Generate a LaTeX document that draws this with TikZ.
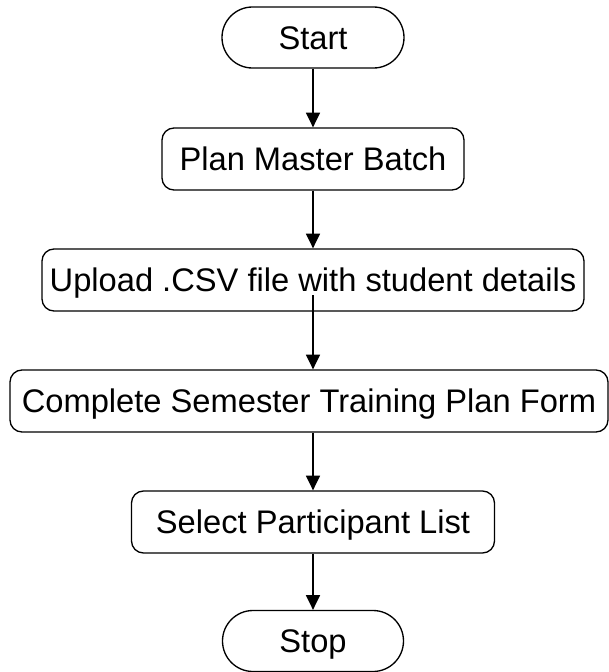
\documentclass[tikz,border=0pt]{standalone}
\usepackage{fontspec}
\setmainfont{Liberation Sans}
\usetikzlibrary{shapes.misc,arrows.meta}
\begin{document}
\begin{tikzpicture}[x=0.75pt,y=-0.75pt,
  every node/.style={font=\fontsize{24.5}{28}\selectfont, inner sep=0pt, anchor=center, text height=17.5pt, text depth=0pt},
  term/.style={draw, rounded rectangle, line width=1pt, minimum height=45.75pt},
  stepbox/.style={draw, rectangle, rounded corners=9pt, line width=1pt, minimum height=46.5pt},
  flow/.style={draw, line width=1pt, -{Triangle[length=11pt,width=10.5pt]}}]
\useasboundingbox (0,0) rectangle (609,672);
\node[term, minimum width=136.5pt] (start) at (313,37.5) {Start};
\node[stepbox, minimum width=226.5pt] (plan) at (313,159) {Plan Master Batch};
\node[stepbox, minimum width=406.5pt] (upload) at (313,280) {Upload .CSV file with student details};
\node[stepbox, minimum width=448.5pt] (complete) at (309,401) {Complete Semester Training Plan Form};
\node[stepbox, minimum width=272.25pt] (select) at (313,522) {Select Participant List};
\node[term, minimum width=135.75pt] (stop) at (313,641) {Stop};
\coordinate (upsrc) at (313,295);
\draw[flow] (start.south) -- (plan.north);
\draw[flow] (plan.south) -- (upload.north);
\draw[flow] (upsrc) -- (upsrc |- complete.north);
\draw[flow] (select.north |- complete.south) -- (select.north);
\draw[flow] (select.south) -- (stop.north);
\end{tikzpicture}
\end{document}
